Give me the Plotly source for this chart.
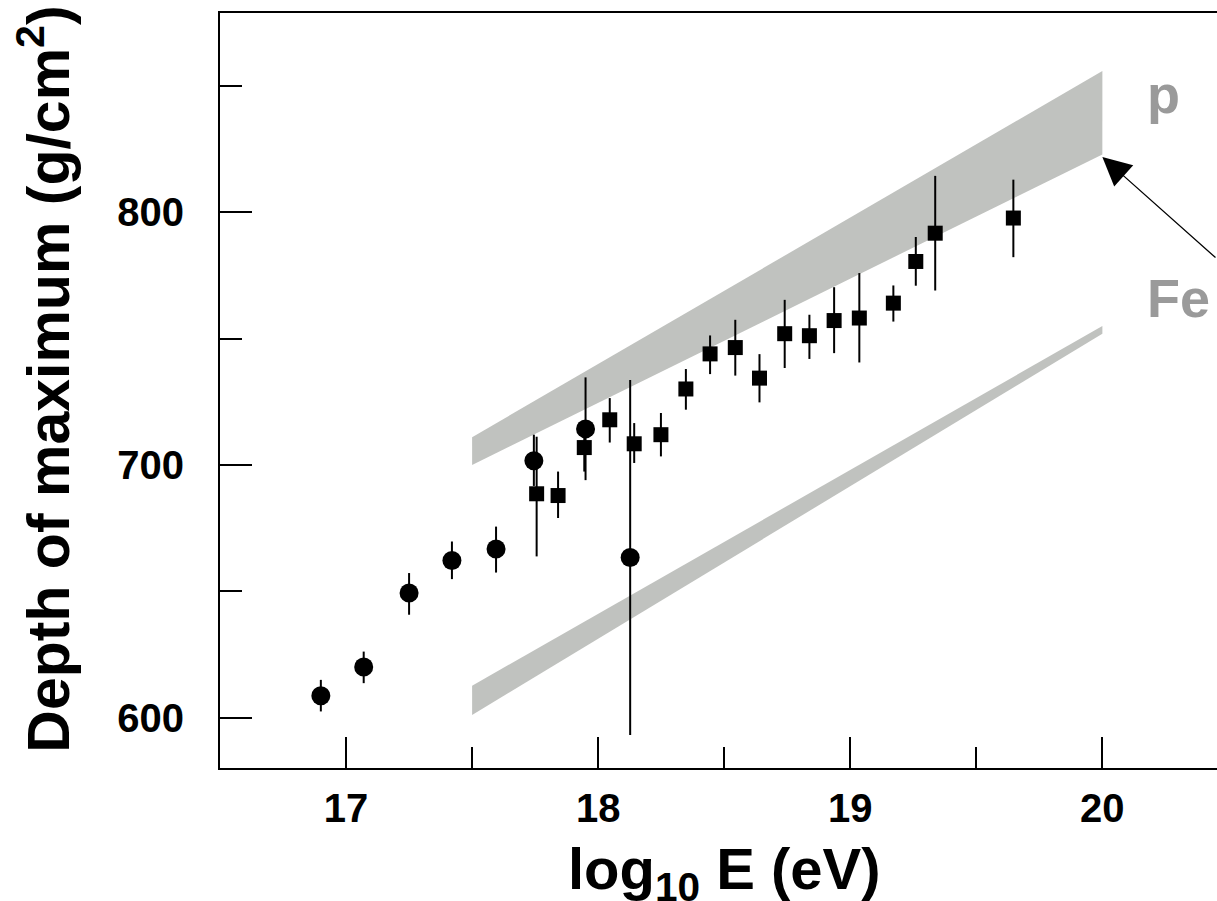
import plotly.graph_objects as go

# ---------------- data ----------------
circle_x = [16.90, 17.07, 17.25, 17.42, 17.595, 17.745, 17.95, 18.127]
circle_y = [608.6, 620.0, 649.3, 662.2, 666.7, 701.7, 714.3, 663.4]
circle_err_up = [6.3, 6.1, 7.9, 7.5, 8.9, 10.3, 20.4, 70.3]
circle_err_dn = [6.2, 6.4, 8.6, 7.4, 9.3, 10.0, 20.3, 70.3]

square_x = [17.756, 17.841, 17.945, 18.046, 18.143, 18.249, 18.348, 18.444, 18.544,
            18.64, 18.74, 18.838, 18.936, 19.036, 19.171, 19.26, 19.337, 19.647]
square_y = [688.6, 687.9, 706.9, 717.9, 708.4, 712.0, 730.1, 744.0, 746.5,
            734.4, 752.0, 751.2, 757.2, 758.2, 764.1, 780.6, 791.8, 797.8]
square_err_up = [22.6, 9.5, 9.5, 8.6, 8.2, 8.6, 7.9, 7.3, 11.0,
                 9.5, 13.4, 8.3, 13.2, 17.8, 7.0, 9.7, 22.7, 15.2]
square_err_dn = [24.8, 8.9, 9.5, 9.0, 7.6, 8.6, 8.2, 8.0, 11.1,
                 9.6, 13.6, 9.2, 12.9, 17.6, 7.3, 9.6, 22.7, 15.5]

band_x = [17.5, 20.0]
p_low = [700.0, 823.0]
p_high = [711.0, 856.0]
fe_low = [601.0, 752.0]
fe_high = [612.6, 755.0]

x_ticks = [17, 18, 19, 20]
y_ticks = [600, 700, 800]

FONT = "Liberation Sans"
BAND = "#c0c2bf"
LABEL_GRAY = "#9a9a9a"

fig = go.Figure()

def band(xs, lo, hi):
    return go.Scatter(
        x=list(xs) + list(xs)[::-1],
        y=list(lo) + list(hi)[::-1],
        fill="toself", fillcolor=BAND, mode="lines",
        line=dict(width=0, color=BAND), hoverinfo="skip", showlegend=False)

fig.add_trace(band(band_x, p_low, p_high))
fig.add_trace(band(band_x, fe_low, fe_high))

fig.add_trace(go.Scatter(
    x=square_x, y=square_y, mode="markers",
    marker=dict(symbol="square", size=15, color="black"),
    error_y=dict(type="data", symmetric=False, array=square_err_up,
                 arrayminus=square_err_dn, color="black", thickness=2, width=0),
    showlegend=False))

fig.add_trace(go.Scatter(
    x=circle_x, y=circle_y, mode="markers",
    marker=dict(symbol="circle", size=19, color="black"),
    error_y=dict(type="data", symmetric=False, array=circle_err_up,
                 arrayminus=circle_err_dn, color="black", thickness=2, width=0),
    showlegend=False))

# labels
fig.add_annotation(x=20.17, y=847, xref="x", yref="y", text="p", showarrow=False,
                   xanchor="left", yanchor="middle",
                   font=dict(family=FONT, size=54, color=LABEL_GRAY, weight="bold"))
fig.add_annotation(x=20.17, y=766.0, xref="x", yref="y", text="Fe", showarrow=False,
                   xanchor="left", yanchor="middle",
                   font=dict(family=FONT, size=54, color=LABEL_GRAY, weight="bold"))

# arrow pointing at the lower-right corner of the proton band
fig.add_annotation(x=20.0, y=822, xref="x", yref="y", text="", showarrow=True,
                   ax=230, ay=102, arrowhead=2, arrowsize=4.4, arrowwidth=1.3,
                   arrowcolor="black", standoff=0)

# axis titles
fig.add_annotation(x=18.5, y=-0.139, xref="x", yref="paper",
                   text="log<sub>10</sub> E (eV)", showarrow=False,
                   xanchor="center", yanchor="middle",
                   font=dict(family=FONT, size=58, color="black", weight="bold"))
fig.add_annotation(x=-0.176, y=0.515, xref="paper", yref="paper",
                   text="Depth of maximum (g/cm<sup>2</sup>)", showarrow=False,
                   textangle=-90, xanchor="center", yanchor="middle",
                   font=dict(family=FONT, size=59, color="black", weight="bold"))

fig.update_xaxes(
    range=[16.5, 16.5 + 997 / 252.1], tickmode="array", tickvals=x_ticks,
    ticktext=[str(v) for v in x_ticks],
    ticks="inside", ticklen=31, tickwidth=2, tickcolor="black",
    minor=dict(dtick=0.5, tick0=16.5, ticks="inside", ticklen=21, tickwidth=2,
               tickcolor="black", showgrid=False),
    showline=True, linewidth=2, linecolor="black", mirror=True,
    showgrid=False, zeroline=False, ticklabelstandoff=4,
    tickfont=dict(family=FONT, size=40, color="black", weight="bold"))

fig.update_yaxes(
    range=[580, 879], tickmode="array", tickvals=y_ticks,
    ticktext=[str(v) for v in y_ticks],
    ticks="inside", ticklen=32, tickwidth=2, tickcolor="black",
    minor=dict(dtick=50, tick0=600, ticks="inside", ticklen=22, tickwidth=2,
               tickcolor="black", showgrid=False),
    showline=True, linewidth=2, linecolor="black", mirror=False,
    showgrid=False, zeroline=False, ticklabelstandoff=26,
    tickfont=dict(family=FONT, size=40, color="black", weight="bold"))

fig.update_layout(
    width=1217, height=901,
    margin=dict(l=220, r=0, t=13, b=133, pad=0),
    paper_bgcolor="white", plot_bgcolor="white",
    showlegend=False,
)

fig.write_html("out.html")
